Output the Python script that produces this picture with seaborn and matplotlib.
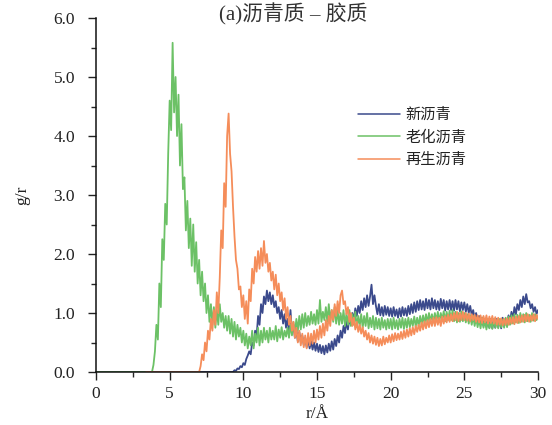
import numpy as np
import pandas as pd
import matplotlib
matplotlib.use("Agg")
import matplotlib.pyplot as plt
import seaborn as sns
from matplotlib.ticker import MultipleLocator, FormatStrFormatter

# ---------------- data (g(r), sampled every 0.1 Å from each start) ----------------
series_names = ["新沥青", "老化沥青", "再生沥青"]
colors = ["#3b4a8c", "#6cc166", "#f58d5a"]
step = 0.1

# 新沥青 (fresh asphalt): zero from 0, first value at r = 9.3
fresh_r0 = 9.3
fresh_g = [
    0.00, 0.03, 0.02, 0.06, 0.05, 0.10, 0.08,
    0.15, 0.12, 0.22, 0.28, 0.35, 0.30, 0.50, 0.45, 0.70, 0.60,
    0.95, 0.80, 1.15, 1.00, 1.28, 1.15, 1.38, 1.20, 1.35, 1.15,
    1.30, 1.10, 1.20, 1.00, 1.10, 0.90, 1.05, 0.82, 0.98, 0.75,
    0.90, 0.70, 1.05, 0.65, 0.80, 0.58, 0.72, 0.52, 0.68, 0.50,
    0.62, 0.46, 0.58, 0.42, 0.55, 0.40, 0.52, 0.38, 0.50, 0.36,
    0.48, 0.34, 0.46, 0.32, 0.44, 0.30, 0.45, 0.33, 0.48, 0.36,
    0.52, 0.38, 0.56, 0.44, 0.62, 0.50, 0.70, 0.58, 0.78, 0.66,
    0.86, 0.72, 0.92, 0.80, 1.00, 0.88, 1.08, 0.95, 1.12, 1.00,
    1.20, 1.05, 1.25, 1.10, 1.30, 1.12, 1.28, 1.48, 1.15, 1.30,
    1.12, 0.98, 1.15, 0.96, 1.10, 0.95, 1.12, 0.97, 1.10, 0.95,
    1.08, 0.94, 1.10, 0.95, 1.06, 0.92, 1.08, 0.94, 1.10, 0.96,
    1.08, 0.95, 1.12, 0.98, 1.15, 1.00, 1.18, 1.02, 1.20, 1.05,
    1.22, 1.06, 1.20, 1.05, 1.24, 1.08, 1.22, 1.06, 1.25, 1.08,
    1.22, 1.06, 1.20, 1.05, 1.24, 1.08, 1.22, 1.04, 1.20, 1.06,
    1.22, 1.05, 1.20, 1.04, 1.22, 1.06, 1.20, 1.03, 1.18, 1.05,
    1.18, 1.02, 1.15, 1.00, 1.12, 0.96, 1.05, 0.90, 1.00, 0.85,
    0.95, 0.80, 0.92, 0.78, 0.90, 0.76, 0.88, 0.75, 0.90, 0.74,
    0.88, 0.75, 0.90, 0.76, 0.88, 0.74, 0.92, 0.78, 0.90, 0.80,
    0.96, 0.85, 1.02, 0.90, 1.10, 0.98, 1.15, 1.05, 1.22, 1.10,
    1.28, 1.15, 1.32, 1.18, 1.20, 1.08, 1.15, 1.02, 1.10, 0.98,
    1.05,
]

# 老化沥青 (aged asphalt): zero from 0, first value at r = 3.8
aged_r0 = 3.8
aged_g = [
    0.00, 0.12,
    0.35, 0.80, 0.55, 1.50, 1.10, 2.25, 1.90, 2.85, 2.50, 3.70,
    4.60, 4.10, 5.58, 4.40, 5.00, 4.00, 4.70, 3.50, 4.20, 3.10,
    3.30, 2.40, 2.90, 2.10, 2.60, 1.80, 2.50, 1.70, 2.20, 1.50,
    1.90, 1.30, 1.70, 1.20, 1.50, 1.00, 1.30, 0.85, 1.15, 0.80,
    1.10, 0.75, 1.05, 0.80, 1.15, 0.85, 1.00, 0.75, 0.95, 0.70,
    0.95, 0.65, 0.90, 0.60, 0.85, 0.55, 0.80, 0.60, 0.75, 0.50,
    0.70, 0.45, 0.65, 0.40, 0.60, 0.45, 0.70, 0.40, 0.65, 0.50,
    0.75, 0.45, 0.70, 0.50, 0.75, 0.55, 0.70, 0.50, 0.75, 0.55,
    0.70, 0.55, 0.78, 0.52, 0.72, 0.58, 0.76, 0.55, 0.70, 0.60,
    0.75, 0.58, 0.80, 0.62, 0.85, 0.65, 0.90, 0.70, 0.95, 0.72,
    0.98, 0.75, 1.00, 0.78, 0.95, 0.80, 1.02, 0.82, 0.98, 0.80,
    1.05, 0.82, 1.22, 0.85, 1.02, 0.88, 1.10, 0.85, 1.15, 0.88,
    1.05, 0.85, 1.10, 0.82, 1.05, 0.80, 1.00, 0.82, 1.05, 0.78,
    1.00, 0.80, 1.05, 0.78, 0.98, 0.80, 1.02, 0.76, 0.95, 0.78,
    0.98, 0.75, 0.95, 0.78, 1.00, 0.74, 0.92, 0.76, 0.95, 0.72,
    0.92, 0.74, 0.90, 0.72, 0.92, 0.75, 0.88, 0.72, 0.90, 0.74,
    0.90, 0.72, 0.92, 0.74, 0.88, 0.72, 0.90, 0.75, 0.92, 0.73,
    0.90, 0.75, 0.92, 0.76, 0.90, 0.78, 0.94, 0.77, 0.92, 0.78,
    0.95, 0.80, 0.96, 0.82, 0.98, 0.83, 1.00, 0.85, 0.98, 0.84,
    1.00, 0.86, 1.02, 0.85, 1.00, 0.88, 1.03, 0.86, 1.02, 0.88,
    1.04, 0.88, 1.05, 0.86, 1.02, 0.84, 1.00, 0.85, 1.03, 0.86,
    1.00, 0.84, 0.98, 0.82, 0.96, 0.80, 0.95, 0.78, 0.92, 0.76,
    0.90, 0.74, 0.92, 0.75, 0.88, 0.72, 0.90, 0.74, 0.87, 0.73,
    0.90, 0.75, 0.88, 0.74, 0.90, 0.76, 0.89, 0.75, 0.92, 0.76,
    0.94, 0.80, 0.96, 0.82, 0.98, 0.84, 0.97, 0.83, 1.00, 0.85,
    0.98, 0.84, 1.00, 0.86, 0.97, 0.85, 1.00, 0.87, 0.98, 0.88,
    0.95,
]

# 再生沥青 (regenerated asphalt): data begins at r = 3.4 (zeros), first sampled value at r = 7.0
regen_start = 3.4
regen_r0 = 7.0
regen_g = [
    0.00, 0.10, 0.30, 0.20, 0.50, 0.35, 0.70, 0.55, 0.90, 0.70,
    1.05, 0.80, 1.35, 1.00, 1.60, 2.40, 2.10, 3.20, 2.80, 4.00,
    4.38, 3.70, 3.40, 2.80, 2.30, 1.90, 1.75, 1.40, 1.45, 1.10,
    1.30, 0.90, 1.20, 0.82, 1.40, 1.20, 1.75, 1.50, 1.95, 1.70,
    2.05, 1.75, 2.10, 1.80, 2.22, 1.85, 2.00, 1.70, 1.85, 1.55,
    1.70, 1.40, 1.65, 1.30, 1.50, 1.20, 1.35, 1.05, 1.25, 0.90,
    1.10, 0.80, 0.95, 0.70, 0.85, 0.58, 0.75, 0.50, 0.70, 0.45,
    0.65, 0.42, 0.62, 0.40, 0.66, 0.45, 0.65, 0.48, 0.70, 0.50,
    0.72, 0.55, 0.78, 0.58, 0.82, 0.62, 0.88, 0.70, 0.95, 0.78,
    1.05, 0.88, 1.15, 0.95, 1.20, 1.00, 1.30, 1.38, 1.15, 1.20,
    0.98, 1.10, 0.85, 1.00, 0.78, 0.92, 0.72, 0.85, 0.68, 0.80,
    0.65, 0.76, 0.60, 0.70, 0.55, 0.66, 0.50, 0.62, 0.48, 0.60,
    0.46, 0.58, 0.44, 0.56, 0.45, 0.60, 0.47, 0.58, 0.50, 0.62,
    0.50, 0.64, 0.52, 0.66, 0.54, 0.65, 0.55, 0.68, 0.56, 0.70,
    0.58, 0.72, 0.60, 0.74, 0.62, 0.76, 0.64, 0.78, 0.68, 0.80,
    0.70, 0.84, 0.72, 0.86, 0.74, 0.88, 0.76, 0.90, 0.78, 0.92,
    0.78, 0.93, 0.80, 0.92, 0.78, 0.94, 0.82, 0.95, 0.84, 0.97,
    0.85, 0.98, 0.86, 1.00, 0.88, 1.02, 0.86, 1.00, 0.88, 1.02,
    0.88, 1.00, 0.87, 0.99, 0.86, 0.98, 0.88, 0.97, 0.85, 0.96,
    0.84, 0.96, 0.83, 0.95, 0.84, 0.96, 0.82, 0.94, 0.83, 0.95,
    0.82, 0.93, 0.80, 0.92, 0.80, 0.91, 0.79, 0.90, 0.80, 0.91,
    0.80, 0.92, 0.82, 0.93, 0.81, 0.94, 0.83, 0.95, 0.84, 0.96,
    0.85, 0.97, 0.86, 0.98, 0.85, 0.96, 0.87, 0.98, 0.86, 0.97,
    0.90,
]

x_ticks = [0, 5, 10, 15, 20, 25, 30]
y_ticks = [0.0, 1.0, 2.0, 3.0, 4.0, 5.0, 6.0]
title_text = "(a)沥青质 – 胶质"
x_label = "r/Å"
y_label = "g/r"


def build(name, start, r0, vals):
    r = np.concatenate([[start], r0 + step * np.arange(len(vals))])
    g = np.concatenate([[0.0], vals])
    return pd.DataFrame({"r": r, "g": g, "series": name})


df = pd.concat([
    build(series_names[0], 0.0, fresh_r0, fresh_g),
    build(series_names[1], 0.0, aged_r0, aged_g),
    build(series_names[2], regen_start, regen_r0, regen_g),
], ignore_index=True)

# ---------------- style ----------------
sns.set_style("ticks")
plt.rcParams["font.family"] = ["Liberation Serif", "Noto Sans CJK SC", "DejaVu Sans"]
plt.rcParams["axes.unicode_minus"] = False

fig = plt.figure(figsize=(5.52, 4.25), dpi=100)
ax = fig.add_axes([96 / 552, 1 - 372 / 425, (538 - 96) / 552, (372 - 18) / 425])

sns.lineplot(
    data=df, x="r", y="g", hue="series", hue_order=series_names,
    palette=colors, estimator=None, sort=False, linewidth=1.3, ax=ax,
)

ax.set_xlim(0, 30)
ax.set_ylim(0, 6)
ax.set_xticks(x_ticks)
ax.set_yticks(y_ticks)
ax.xaxis.set_minor_locator(MultipleLocator(2.5))
ax.yaxis.set_minor_locator(MultipleLocator(0.5))
ax.yaxis.set_major_formatter(FormatStrFormatter("%.1f"))
ax.tick_params(axis="both", which="major", direction="out", length=6, width=1,
               labelsize=12.5, colors="#222222")
ax.tick_params(axis="y", which="major", pad=9)
ax.tick_params(axis="x", which="major", pad=4)
ax.tick_params(axis="both", which="minor", direction="out", length=3.5, width=1)
for s in ["top", "right"]:
    ax.spines[s].set_visible(False)
for s in ["left", "bottom"]:
    ax.spines[s].set_linewidth(1.1)
    ax.spines[s].set_color("#111111")

ax.set_xlabel(x_label, fontsize=12.5, color="#222222", labelpad=3)
ax.set_ylabel(y_label, fontsize=12.5, color="#222222", labelpad=17)

fig.text(293 / 552, 1 - 14 / 425, title_text, ha="center", va="center",
         fontsize=15, color="#333333",
         family=["Liberation Serif", "Noto Sans CJK SC"])

leg = ax.legend(loc="upper left", bbox_to_anchor=(0.58, 0.768), frameon=False,
                fontsize=11, handlelength=2.7, handletextpad=0.35,
                labelspacing=0.35, borderaxespad=0)
for line in leg.get_lines():
    line.set_linewidth(1.1)
for t in leg.get_texts():
    t.set_family(["Noto Sans CJK SC"])
    t.set_color("#222222")

fig.savefig("out.png", dpi=100)
